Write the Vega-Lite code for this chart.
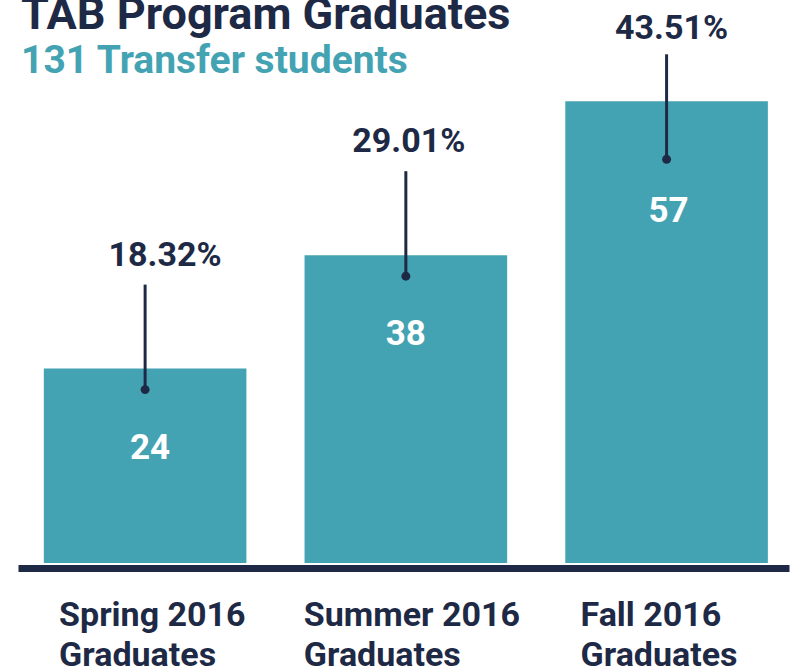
{
  "$schema": "https://vega.github.io/schema/vega-lite/v6.json",
  "width": 771,
  "height": 486,
  "autosize": "none",
  "padding": {"left": 18, "top": 77, "right": 3, "bottom": 109},
  "background": "white",
  "title": {
    "text": "TAB Program Graduates",
    "subtitle": "131 Transfer students",
    "anchor": "start",
    "frame": "group",
    "font": "Roboto",
    "fontSize": 45,
    "fontWeight": "bold",
    "color": "#1E2A45",
    "subtitleFont": "Roboto",
    "subtitleFontSize": 39,
    "subtitleFontWeight": "bold",
    "subtitleColor": "#44A3B2",
    "subtitlePadding": 4,
    "offset": 0,
    "dx": 3,
    "dy": 69
  },
  "data": {
    "values": [
      {"term": "Spring 2016", "count": 24, "share": 0.1832},
      {"term": "Summer 2016", "count": 38, "share": 0.2901},
      {"term": "Fall 2016", "count": 57, "share": 0.4351}
    ]
  },
  "encoding": {
    "x": {
      "field": "term",
      "type": "nominal",
      "sort": null,
      "scale": {"paddingInner": 0.223, "paddingOuter": 0.09, "align": 0.55},
      "axis": {
        "title": null,
        "labelAngle": 0,
        "labelExpr": "[datum.label, 'Graduates']",
        "labelFont": "Roboto",
        "labelFontSize": 34,
        "labelFontWeight": "bold",
        "labelColor": "#1E2A45",
        "labelAlign": "left",
        "labelBaseline": "top",
        "labelLineHeight": 40,
        "labelLimit": 0,
        "labelOffset": {"condition": {"test": "datum.value === 'Summer 2016'", "value": -102}, "value": -86},
        "labelPadding": 30,
        "ticks": false,
        "tickSize": 0,
        "domainColor": "#1E2A45",
        "domainWidth": 7,
        "offset": 5,
        "labelOverlap": false
      }
    },
    "y": {
      "field": "count",
      "type": "quantitative",
      "scale": {"domain": [0, 60], "nice": false},
      "axis": null
    }
  },
  "layer": [
    {"mark": {"type": "bar", "color": "#44A3B2"}},
    {
      "transform": [{"filter": "datum.term !== 'Fall 2016'"}],
      "layer": [
        {"mark": {"type": "rule", "color": "#1E2A45", "strokeWidth": 3, "yOffset": -84, "y2Offset": 21}, "encoding": {"y2": {"field": "count"}}},
        {"mark": {"type": "point", "filled": true, "opacity": 1, "color": "#1E2A45", "size": 80, "yOffset": 21}},
        {"mark": {"type": "text", "font": "Roboto", "fontSize": 34, "fontWeight": "bold", "color": "#1E2A45", "baseline": "middle", "dy": -113, "dx": {"expr": "datum.term === 'Spring 2016' ? 20 : 3"}}, "encoding": {"text": {"field": "share", "format": ".2%"}}},
        {"mark": {"type": "text", "font": "Roboto", "fontSize": 35, "fontWeight": "bold", "color": "white", "baseline": "middle", "dy": 79, "dx": {"expr": "datum.term === 'Spring 2016' ? 5 : 0"}}, "encoding": {"text": {"field": "count"}}}
      ]
    },
    {
      "transform": [{"filter": "datum.term === 'Fall 2016'"}],
      "layer": [
        {"mark": {"type": "rule", "color": "#1E2A45", "strokeWidth": 3, "yOffset": -47, "y2Offset": 58}, "encoding": {"y2": {"field": "count"}}},
        {"mark": {"type": "point", "filled": true, "opacity": 1, "color": "#1E2A45", "size": 80, "yOffset": 58}},
        {"mark": {"type": "text", "font": "Roboto", "fontSize": 34, "fontWeight": "bold", "color": "#1E2A45", "baseline": "middle", "dy": -72, "dx": 5}, "encoding": {"text": {"field": "share", "format": ".2%"}}},
        {"mark": {"type": "text", "font": "Roboto", "fontSize": 35, "fontWeight": "bold", "color": "white", "baseline": "middle", "dy": 110, "dx": 2}, "encoding": {"text": {"field": "count"}}}
      ]
    }
  ],
  "config": {"view": {"stroke": null}}
}
